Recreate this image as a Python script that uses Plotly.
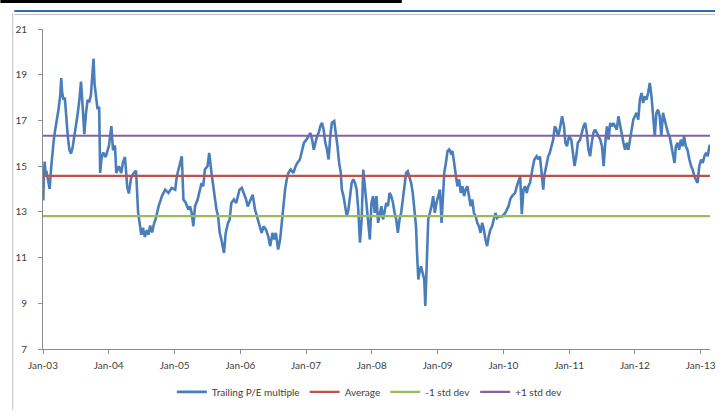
import pandas as pd
import plotly.graph_objects as go

# Trailing P/E multiple, sampled in fractional years
t_years = [
    2003.000, 2003.005, 2003.012, 2003.026, 2003.040, 2003.051, 2003.076, 2003.101, 2003.126, 2003.151,
    2003.166, 2003.186, 2003.211, 2003.237, 2003.262, 2003.277, 2003.292, 2003.312, 2003.332, 2003.352,
    2003.377, 2003.402, 2003.427, 2003.452, 2003.478, 2003.503, 2003.528, 2003.553, 2003.578, 2003.603,
    2003.628, 2003.653, 2003.678, 2003.703, 2003.728, 2003.753, 2003.769, 2003.784, 2003.804, 2003.829,
    2003.854, 2003.869, 2003.889, 2003.914, 2003.954, 2004.004, 2004.040, 2004.065, 2004.095, 2004.115,
    2004.155, 2004.190, 2004.215, 2004.246, 2004.266, 2004.281, 2004.306, 2004.341, 2004.381, 2004.416,
    2004.446, 2004.470, 2004.495, 2004.520, 2004.550, 2004.580, 2004.605, 2004.630, 2004.660, 2004.690,
    2004.715, 2004.758, 2004.808, 2004.858, 2004.908, 2004.958, 2005.009, 2005.034, 2005.069, 2005.109,
    2005.134, 2005.169, 2005.209, 2005.234, 2005.260, 2005.285, 2005.310, 2005.350, 2005.385, 2005.410,
    2005.435, 2005.460, 2005.501, 2005.526, 2005.561, 2005.586, 2005.611, 2005.636, 2005.661, 2005.686,
    2005.711, 2005.736, 2005.751, 2005.777, 2005.812, 2005.837, 2005.862, 2005.902, 2005.937, 2005.962,
    2005.987, 2006.022, 2006.053, 2006.088, 2006.113, 2006.153, 2006.188, 2006.223, 2006.253, 2006.289,
    2006.324, 2006.354, 2006.389, 2006.424, 2006.454, 2006.489, 2006.514, 2006.540, 2006.575, 2006.605,
    2006.625, 2006.655, 2006.680, 2006.705, 2006.730, 2006.766, 2006.806, 2006.841, 2006.866, 2006.906,
    2006.941, 2006.966, 2007.006, 2007.042, 2007.067, 2007.092, 2007.117, 2007.167, 2007.192, 2007.217,
    2007.242, 2007.267, 2007.293, 2007.318, 2007.343, 2007.368, 2007.393, 2007.428, 2007.453, 2007.478,
    2007.503, 2007.528, 2007.544, 2007.569, 2007.594, 2007.619, 2007.644, 2007.669, 2007.694, 2007.719,
    2007.744, 2007.769, 2007.794, 2007.820, 2007.845, 2007.870, 2007.895, 2007.920, 2007.945, 2007.970,
    2007.995, 2008.020, 2008.045, 2008.071, 2008.096, 2008.121, 2008.146, 2008.171, 2008.196, 2008.221,
    2008.246, 2008.271, 2008.296, 2008.322, 2008.347, 2008.372, 2008.397, 2008.422, 2008.447, 2008.472,
    2008.497, 2008.522, 2008.547, 2008.573, 2008.598, 2008.623, 2008.648, 2008.673, 2008.688, 2008.708,
    2008.723, 2008.748, 2008.773, 2008.798, 2008.814, 2008.834, 2008.859, 2008.884, 2008.909, 2008.934,
    2008.959, 2008.984, 2009.009, 2009.034, 2009.059, 2009.075, 2009.100, 2009.125, 2009.150, 2009.175,
    2009.200, 2009.225, 2009.250, 2009.275, 2009.300, 2009.326, 2009.351, 2009.376, 2009.401, 2009.426,
    2009.451, 2009.476, 2009.501, 2009.526, 2009.551, 2009.577, 2009.602, 2009.627, 2009.652, 2009.677,
    2009.702, 2009.727, 2009.752, 2009.777, 2009.802, 2009.827, 2009.852, 2009.878, 2009.903, 2009.928,
    2009.979, 2010.029, 2010.079, 2010.104, 2010.129, 2010.179, 2010.204, 2010.230, 2010.255, 2010.280,
    2010.305, 2010.330, 2010.355, 2010.380, 2010.405, 2010.440, 2010.471, 2010.506, 2010.531, 2010.556,
    2010.581, 2010.606, 2010.621, 2010.656, 2010.681, 2010.706, 2010.732, 2010.757, 2010.782, 2010.807,
    2010.832, 2010.857, 2010.892, 2010.922, 2010.942, 2010.967, 2010.998, 2011.033, 2011.058, 2011.083,
    2011.108, 2011.133, 2011.168, 2011.193, 2011.218, 2011.244, 2011.269, 2011.294, 2011.319, 2011.344,
    2011.369, 2011.394, 2011.424, 2011.444, 2011.474, 2011.500, 2011.525, 2011.550, 2011.575, 2011.600,
    2011.625, 2011.650, 2011.675, 2011.700, 2011.725, 2011.750, 2011.776, 2011.801, 2011.826, 2011.851,
    2011.876, 2011.901, 2011.926, 2011.951, 2011.976, 2012.001, 2012.027, 2012.052, 2012.077, 2012.102,
    2012.127, 2012.152, 2012.177, 2012.202, 2012.227, 2012.253, 2012.278, 2012.303, 2012.328, 2012.353,
    2012.378, 2012.403, 2012.428, 2012.453, 2012.478, 2012.504, 2012.529, 2012.554, 2012.579, 2012.604,
    2012.624, 2012.649, 2012.674, 2012.699, 2012.724, 2012.749, 2012.775, 2012.800, 2012.830, 2012.855,
    2012.880, 2012.905, 2012.930, 2012.955, 2012.980, 2013.006, 2013.031, 2013.056, 2013.081, 2013.106,
    2013.131, 2013.141,
]

pe_multiple = [
    14.6, 13.5, 14.6, 15.2, 14.6, 14.8, 14.4, 14.0, 15.0, 15.9,
    16.2, 16.6, 17.0, 17.5, 18.1, 18.85, 18.2, 17.9, 18.0, 17.0,
    16.3, 15.7, 15.55, 15.85, 16.3, 16.75, 17.3, 17.9, 18.7, 17.6,
    16.4, 17.3, 17.9, 17.8, 18.1, 19.1, 19.7, 18.6, 18.1, 17.5,
    17.6, 14.7, 15.3, 15.6, 15.4, 15.9, 16.75, 15.7, 15.9, 14.7,
    15.0, 14.7, 15.15, 15.4, 14.7, 14.1, 13.8, 14.5, 14.7, 14.8,
    13.0, 12.4, 12.0, 12.3, 11.9, 12.2, 12.0, 12.4, 12.1, 12.5,
    12.7, 13.24, 13.68, 13.97, 13.83, 14.05, 13.97, 14.56, 15.0, 15.43,
    13.54, 13.4, 13.1, 13.24, 12.95, 12.37, 13.24, 13.54, 13.97, 14.26,
    14.12, 14.85, 15.0, 15.58, 14.7, 14.12, 13.54, 13.1, 12.81, 12.08,
    11.79, 11.5, 11.2, 12.08, 12.52, 12.66, 13.39, 13.54, 13.39, 13.68,
    13.97, 14.05, 13.83, 13.54, 13.24, 13.54, 13.75, 13.1, 12.81, 12.52,
    12.08, 12.37, 12.22, 11.93, 11.5, 12.08, 11.79, 12.08, 11.35, 11.79,
    12.37, 13.54, 13.97, 14.41, 14.7, 14.85, 14.7, 15.0, 15.14, 15.29,
    15.72, 16.02, 16.16, 16.31, 16.45, 16.16, 15.72, 16.31, 16.46, 16.75,
    16.9, 16.6, 16.02, 15.73, 15.29, 16.31, 16.9, 16.97, 16.46, 15.87,
    15.14, 14.71, 13.98, 13.69, 13.25, 12.81, 13.1, 13.69, 14.27, 14.42,
    14.27, 13.98, 13.1, 11.65, 12.67, 14.85, 14.12, 13.25, 12.67, 11.79,
    13.4, 13.69, 12.96, 13.69, 12.52, 12.96, 13.25, 12.67, 13.1, 13.4,
    13.25, 13.83, 13.69, 13.4, 12.96, 12.67, 12.08, 12.67, 12.96, 13.54,
    14.12, 14.71, 14.78, 14.56, 14.27, 13.83, 13.1, 12.37, 11.21, 10.04,
    10.33, 10.62, 10.33, 10.04, 8.88, 10.62, 12.67, 12.96, 13.25, 13.69,
    12.96, 13.4, 13.69, 13.98, 12.52, 13.54, 14.71, 15.14, 15.66, 15.73,
    15.58, 15.66, 15.14, 14.56, 14.12, 14.42, 13.83, 14.12, 13.69, 13.98,
    14.12, 13.69, 13.25, 13.54, 12.96, 12.81, 12.52, 12.37, 12.08, 12.52,
    12.23, 11.79, 11.5, 11.94, 12.23, 12.37, 12.6, 12.95, 12.73, 12.8,
    12.8, 12.95, 13.25, 13.54, 13.68, 13.83, 14.12, 14.41, 14.56, 12.9,
    13.97, 14.12, 13.83, 14.12, 14.27, 14.85, 15.29, 15.43, 15.29, 15.43,
    14.7, 13.97, 14.56, 15.14, 15.43, 15.58, 15.87, 16.16, 16.74, 16.6,
    16.31, 16.6, 17.18, 16.74, 16.02, 15.87, 16.31, 16.16, 15.58, 15.0,
    15.43, 16.02, 16.16, 16.45, 16.74, 16.89, 16.45, 15.72, 15.43, 16.02,
    16.45, 16.6, 16.45, 16.31, 16.16, 15.87, 15.0, 16.02, 16.74, 16.16,
    16.89, 16.74, 16.89, 16.74, 16.6, 17.18, 16.74, 16.45, 16.02, 15.72,
    16.02, 15.72, 16.16, 16.74, 17.03, 17.18, 17.33, 17.03, 17.91, 18.2,
    17.76, 18.06, 17.91, 18.2, 18.64, 18.06, 17.33, 16.31, 17.33, 17.47,
    17.18, 16.31, 17.33, 17.03, 16.74, 16.45, 16.31, 15.87, 15.43, 15.14,
    15.87, 16.02, 15.72, 16.16, 15.87, 16.31, 15.87, 15.72, 15.29, 15.0,
    14.85, 14.56, 14.41, 14.27, 15.0, 15.29, 15.14, 15.43, 15.58, 15.43,
    15.87, 15.94,
]

average = 14.57
minus_1sd = 12.81
plus_1sd = 16.33

series_names = ["Trailing P/E multiple", "Average", "-1 std dev", "+1 std dev"]
series_colors = ["#4A7EBB", "#C0504D", "#9BBB59", "#8064A2"]

y_ticks = [7, 9, 11, 13, 15, 17, 19, 21]
x_tick_years = list(range(2003, 2014))


def to_date(t):
    year = int(t)
    return pd.Timestamp(year=year, month=1, day=1) + pd.Timedelta(days=(t - year) * 365.25)


dates = [to_date(t) for t in t_years]
x_ticks = [pd.Timestamp(year=y, month=1, day=1) for y in x_tick_years]
x_labels = [d.strftime("%b-%y") for d in x_ticks]

W, H = 721, 411
ML, MR, MT, MB = 43, 5, 29, 61


def px(xp):
    return (xp - ML) / (W - ML - MR)


def py(yp):
    return (H - MB - yp) / (H - MT - MB)


fig = go.Figure()

fig.add_trace(go.Scatter(
    x=dates, y=pe_multiple, mode="lines", name=series_names[0],
    line=dict(color=series_colors[0], width=2.6),
))
for name, color, level in zip(series_names[1:], series_colors[1:], [average, minus_1sd, plus_1sd]):
    fig.add_trace(go.Scatter(
        x=[dates[0], dates[-1]], y=[level, level], mode="lines", name=name,
        line=dict(color=color, width=2.2),
    ))

font_family = "Lato, 'Open Sans', sans-serif"
tick_color = "#404040"

fig.update_layout(
    width=W, height=H,
    margin=dict(l=ML, r=MR, t=MT, b=MB),
    paper_bgcolor="white", plot_bgcolor="white",
    font=dict(family=font_family, size=10, color=tick_color),
    showlegend=True,
    legend=dict(
        orientation="h", x=0.49, xanchor="center", y=py(393), yanchor="middle",
        font=dict(size=10, color=tick_color), itemwidth=30,
        bgcolor="rgba(0,0,0,0)", tracegroupgap=0,
    ),
    xaxis=dict(
        type="date",
        range=[x_ticks[0], dates[-1]],
        tickvals=x_ticks, ticktext=x_labels,
        ticks="outside", ticklen=4, tickcolor="#8c8c8c",
        showline=True, linecolor="#8c8c8c", linewidth=1,
        showgrid=False, zeroline=False,
        ticklabeloverflow="allow", ticklabelstandoff=3,
        tickfont=dict(size=10, color=tick_color),
    ),
    yaxis=dict(
        range=[7, 21], tickvals=y_ticks,
        ticks="outside", ticklen=4, tickcolor="#8c8c8c",
        showline=True, linecolor="#8c8c8c", linewidth=1,
        showgrid=False, zeroline=False,
        ticklabelstandoff=9,
        tickfont=dict(size=10, color=tick_color),
    ),
    shapes=[
        # dark band across the top edge
        dict(type="rect", xref="paper", yref="paper",
             x0=px(0), x1=px(405), y0=py(3), y1=py(0),
             fillcolor="black", line=dict(width=0), layer="above"),
        # framed panel: blue top rule and grey left rule
        dict(type="line", xref="paper", yref="paper",
             x0=px(14), x1=px(721), y0=py(11), y1=py(11),
             line=dict(color="#2E6DB4", width=2)),
        dict(type="line", xref="paper", yref="paper",
             x0=px(14), x1=px(721), y0=py(14.5), y1=py(14.5),
             line=dict(color="#BFBFBF", width=1)),
        dict(type="line", xref="paper", yref="paper",
             x0=px(12.5), x1=px(12.5), y0=py(411), y1=py(13),
             line=dict(color="#BFBFBF", width=1)),
    ],
)

fig.write_html("out.html")
